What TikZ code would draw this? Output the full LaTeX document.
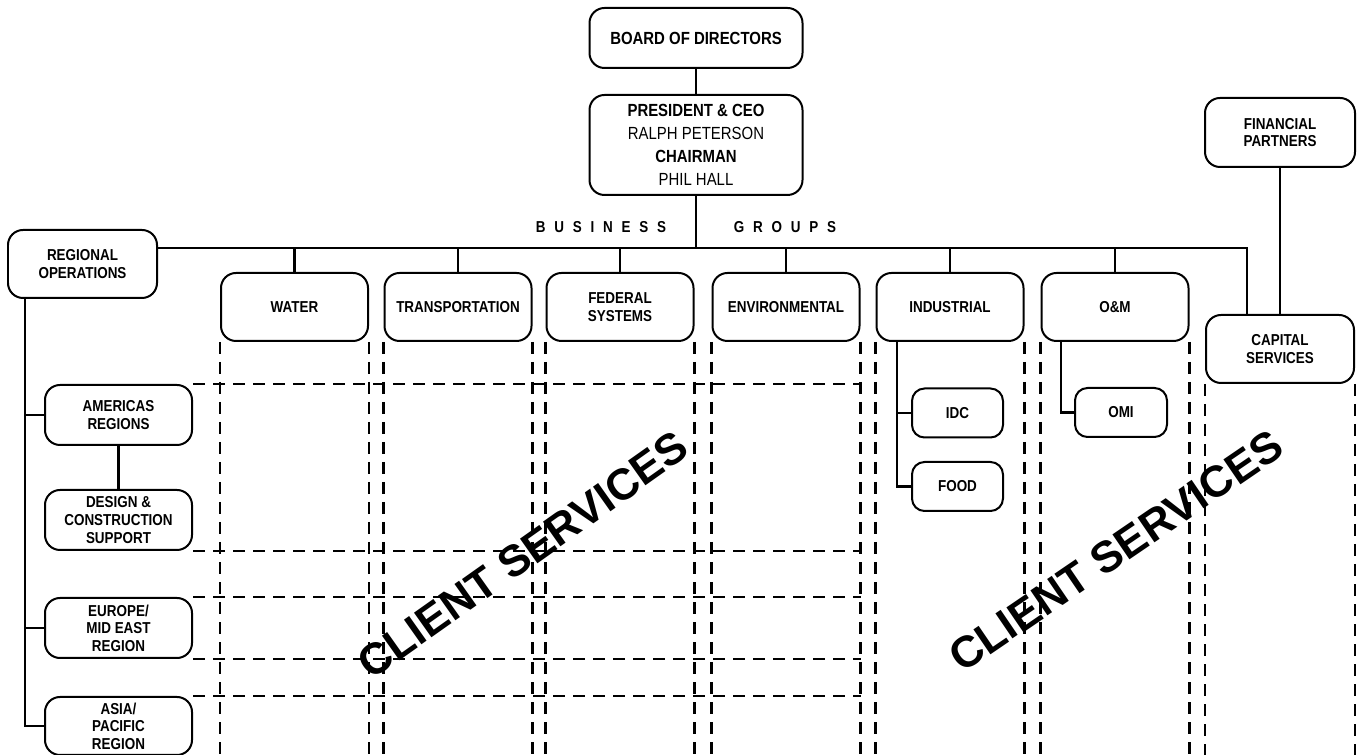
\documentclass[tikz,border=0pt]{standalone}
\usepackage{fontspec}
\setmainfont{Liberation Sans}
\newfontfamily\chartfont{Liberation Sans}[FakeStretch=0.85]
\usepackage{tikz}
\usetikzlibrary{calc}
\newcommand{\lsp}{\hspace{5pt}}

\begin{document}
\begin{tikzpicture}[
    orgbox/.style={draw, line width=0.04cm, rounded corners=0.3cm, align=center, inner sep=0pt,
      minimum width=2.94cm, minimum height=1.20cm,
      font=\chartfont\bfseries\fontsize{9}{10}\selectfont},
    topbox/.style={orgbox, minimum width=4.26cm,
      font=\chartfont\bfseries\fontsize{10}{13}\selectfont},
    subbox/.style={orgbox, minimum width=1.82cm, minimum height=0.98cm, rounded corners=0.25cm},
    link/.style={line width=0.05cm},
    dashline/.style={line width=0.045cm, dash pattern=on 0.24cm off 0.16cm},
  ]
  \useasboundingbox (0,0) rectangle (27.280000,15.100000);

  % Marking the bus and the bottom edge
  \coordinate (busR) at (24.940000,10.140000);
  \coordinate (bottom) at (0.000000,0.000000);
  \coordinate (spine) at (0.500000,0.000000);

  % Drawing box BOARD OF DIRECTORS
  \node [topbox] (board) at (13.920000,14.340000) {BOARD OF DIRECTORS};

  % Drawing box PRESIDENT
  \node [topbox, minimum height=2.00cm] (pres) at (13.920000,12.200000)
    {PRESIDENT \& CEO\\ \mdseries RALPH PETERSON\\ \bfseries CHAIRMAN\\ \mdseries PHIL HALL};
  \draw [link] (board.south) -- (pres.north);%

  % Writing BUSINESS GROUPS
  \node [font=\chartfont\bfseries\fontsize{9}{10}\selectfont] (biz) at (12.020000,10.560000)
    {B\lsp U\lsp S\lsp I\lsp N\lsp E\lsp S\lsp S};
  \node [font=\chartfont\bfseries\fontsize{9}{10}\selectfont] (grp) at (15.700000,10.560000)
    {G\lsp R\lsp O\lsp U\lsp P\lsp S};

  % Drawing box REGIONAL OPERATIONS
  \node [orgbox, minimum width=2.98cm, minimum height=1.36cm] (reg) at (1.650000,9.820000)
    {REGIONAL\\OPERATIONS};

  % Drawing the business groups
  \foreach \g/\x/\t in {water/5.89/WATER, transp/9.16/TRANSPORTATION,
      federal/12.40/{FEDERAL\\SYSTEMS}, environ/15.72/ENVIRONMENTAL,
      indust/19.00/INDUSTRIAL, oandm/22.30/O\&M}
    \node [orgbox, minimum height=1.36cm] (\g) at (\x,8.960000) {\t};

  % Drawing boxes CAPITAL SERVICES and FINANCIAL PARTNERS
  \node [orgbox, minimum width=2.96cm, minimum height=1.36cm] (cap) at (25.600000,8.120000)
    {CAPITAL\\SERVICES};
  \node [orgbox, minimum width=3.00cm, minimum height=1.38cm] (fin) at (25.600000,12.450000)
    {FINANCIAL\\PARTNERS};

  % Drawing the bus
  \draw [link] (pres.south) -- (pres.south |- busR);%
  \draw [link] (reg.east |- busR) -- (busR) -- (busR |- cap.north);%
  \foreach \g in {water,transp,federal,environ,indust,oandm}
    \draw [link] (\g.north) -- (\g.north |- busR);%
  \draw [link] (fin.south) -- (cap.north);%

  % Drawing the regions
  \node [orgbox] (americas) at (2.370000,6.800000) {AMERICAS\\REGIONS};
  \node [orgbox] (design) at (2.370000,4.700000) {DESIGN \&\\CONSTRUCTION\\SUPPORT};
  \node [orgbox] (europe) at (2.370000,2.540000) {EUROPE/\\MID EAST\\REGION};
  \node [orgbox, minimum height=1.16cm] (asia) at (2.370000,0.580000) {ASIA/\\PACIFIC\\REGION};
  \draw [link] (reg.south -| spine) |- (asia.west);%
  \draw [link] (americas.west -| spine) -- (americas.west);%
  \draw [link] (europe.west -| spine) -- (europe.west);%
  \draw [link] (americas.south) -- (design.north);%

  % Drawing boxes IDC, FOOD and OMI
  \node [subbox] (idc) at (19.150000,6.840000) {IDC};
  \node [subbox] (food) at (19.150000,5.370000) {FOOD};
  \node [subbox, minimum width=1.84cm] (omi) at (22.420000,6.850000) {OMI};
  \draw [link] ($(indust.south west)+(0.43,0)$) |- (food.west);%
  \draw [link] (idc.west -| {$(indust.south west)+(0.43,0)$}) -- (idc.west);%
  \draw [link] ($(oandm.south west)+(0.41,0)$) |- (omi.west);%

  % Drawing the dashed grid
  \foreach \g in {water,transp,federal,environ,indust,oandm,cap} {
    \draw [dashline] (\g.south west) -- (\g.south west |- bottom);%
    \draw [dashline] (\g.south east) -- (\g.south east |- bottom);%
  }
  \foreach \p in {americas.north east, design.south east, europe.north east,
      europe.south east, asia.north east}
    \draw [dashline] (\p) -- (\p -| environ.south east);%

  % Writing CLIENT SERVICES twice
  \node [rotate=35.3, font=\bfseries\fontsize{25}{25}\selectfont] (cs1) at (10.460000,4.000000)
    {CLIENT SERVICES};
  \node [rotate=34.3, font=\bfseries\fontsize{25}{25}\selectfont] (cs2) at (22.320000,4.080000)
    {CLIENT SERVICES};
\end{tikzpicture}
\end{document}
